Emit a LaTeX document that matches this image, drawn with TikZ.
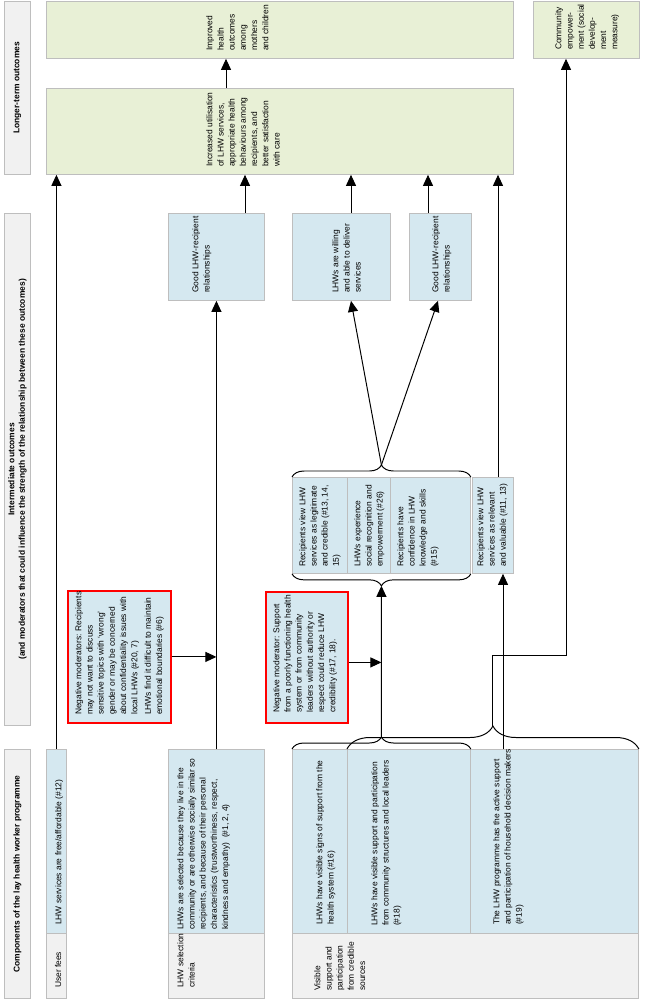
\documentclass[tikz,border=0pt]{standalone}
\usepackage{fontspec}
\setmainfont{Liberation Sans}
\usetikzlibrary{arrows.meta,calc,decorations.pathreplacing}

\definecolor{cellblue}{RGB}{213,232,240}
\definecolor{cellgreen}{RGB}{232,240,214}
\definecolor{hdrgrey}{RGB}{241,241,241}
\definecolor{edgegrey}{RGB}{190,190,190}

\begin{document}
\begin{tikzpicture}[
  x=0.05cm, y=-0.05cm,
  every node/.style={font=\fontsize{12}{16}\selectfont},
  wh/.style 2 args={minimum width=#1*0.05cm, minimum height=#2*0.05cm},
  cell/.style={draw=edgegrey, line width=1.2pt, anchor=north west, inner sep=0pt},
  bluecell/.style={cell, fill=cellblue},
  greencell/.style={cell, fill=cellgreen},
  greycell/.style={cell, fill=hdrgrey},
  modbox/.style={cell, draw=red, line width=2.6pt, fill=cellblue},
  txt/.style={rotate=90, anchor=north west, inner sep=0pt, align=left},
  hdrtxt/.style={rotate=90, align=center, font=\fontsize{12}{15}\selectfont\bfseries},
  arrow/.style={-{Triangle[length=0.55cm, width=0.5cm]}, line width=1.4pt},
  curly/.style={decorate, decoration={brace, amplitude=#1}, line width=1.4pt}
]
\useasboundingbox (0,0) rectangle (649,1000);

% column headers
\node[greycell, wh={26}{173}] (hLong) at (4,1) {};
\node[hdrtxt] (hLong-t) at (hLong) {Longer-term outcomes};
\node[greycell, wh={26}{512}] (hInter) at (4,213) {};
\node[hdrtxt] (hInter-t) at (hInter) {Intermediate outcomes\\(and moderators that could influence the strength of the relationship between these outcomes)};
\node[greycell, wh={26}{249}] (hComp) at (4,749) {};
\node[hdrtxt] (hComp-t) at (hComp) {Components of the lay health worker programme};

% programme components
\node[bluecell, wh={20}{184}] (fees) at (46,749) {};
\node[greycell, wh={20}{65}] (feesLbl) at (46,933) {};
\node[txt] (fees-t) at (55,925) {LHW services are free/affordable (\#12)};
\node[txt] (feesLbl-t) at (55,988) {User fees};

\node[bluecell, wh={96}{184}] (sel) at (168,749) {};
\node[greycell, wh={96}{65}] (selLbl) at (168,933) {};
\node[txt] (sel-t) at (177,930) {LHWs are selected because they live in the\\community or are otherwise socially similar so\\recipients, and because of their personal\\characteristics (trustworthiness, respect,\\kindness and empathy)~~(\#1, 2, 4)};
\node[txt] (selLbl-t) at (177,988) {LHW selection\\criteria};

\node[bluecell, wh={55}{184}] (sig1) at (292,749) {};
\node[bluecell, wh={123}{184}] (sig2) at (347,749) {};
\node[bluecell, wh={168}{184}] (sig3) at (470,749) {};
\node[greycell, wh={346}{65}] (sigLbl) at (292,933) {};
\node[txt] (sig1-t) at (316,925) {LHWs have visible signs of support from the\\health system (\#16)};
\node[txt] (sig2-t) at (371,926) {LHWs have visible support and participation\\from community structures and local leaders\\(\#18)};
\node[txt] (sig3-t) at (493,925) {The LHW programme has the active support\\and participation of household decision makers\\(\#19)};
\node[txt] (sigLbl-t) at (314,991) {Visible\\support and\\participation\\from credible\\sources};

% moderators
\node[modbox, wh={103}{132}] (mod1) at (67,590) {};
\node[txt] (mod1-t) at (75,715) {Negative moderators: Recipients\\may not want to discuss\\sensitive topics with `wrong'\\gender or may be concerned\\about confidentiality issues with\\local LHWs (\#20, 7)\\[3pt]LHWs find it difficult to maintain\\emotional boundaries (\#6)};
\node[modbox, wh={82}{131}] (mod2) at (265,591) {};
\node[txt] (mod2-t) at (273,713) {Negative moderator: Support\\from a poorly functioning health\\system or from community\\leaders without authority or\\respect could reduce LHW\\credibility (\#17, 18).};

% intermediate outcomes
\node[bluecell, wh={55}{96}] (grp1) at (292,477) {};
\node[bluecell, wh={43}{96}] (grp2) at (347,477) {};
\node[bluecell, wh={80}{96}] (grp3) at (390,477) {};
\node[bluecell, wh={41}{96}] (rel) at (472,477) {};
\node[txt] (grp1-t) at (299,567) {Recipients view LHW\\services as legitimate\\and credible (\#13, 14,\\15)};
\node[txt] (grp2-t) at (354,567) {LHWs experience\\social recognition and\\empowerment (\#26)};
\node[txt] (grp3-t) at (397,567) {Recipients have\\confidence in LHW\\knowledge and skills\\(\#15)};
\node[txt] (rel-t) at (477,567) {Recipients view LHW\\services as relevant\\and valuable (\#11, 13)};

\node[bluecell, wh={96}{87}] (good1) at (168,213) {};
\node[bluecell, wh={98}{87}] (will) at (292,213) {};
\node[bluecell, wh={62}{87}] (good2) at (409,213) {};
\node[txt] (good1-t) at (192,293) {Good LHW-recipient\\relationships};
\node[txt] (will-t) at (332,293) {LHWs are willing\\and able to deliver\\services};
\node[txt] (good2-t) at (432,293) {Good LHW-recipient\\relationships};

% longer-term outcomes
\node[greencell, wh={467}{86}] (util) at (46,88) {};
\node[greencell, wh={467}{57}] (health) at (46,1) {};
\node[greencell, wh={106}{57}] (comm) at (533,1) {};
\node[txt] (util-t) at (206,167) {Increased utilisation\\of LHW services,\\appropriate health\\behaviours among\\recipients, and\\better satisfaction\\with care};
\node[txt] (health-t) at (206,51) {Improved\\health\\outcomes\\among\\mothers\\and children};
\node[txt] (comm-t) at (555,50) {Community\\empower-\\ment (social\\develop-\\ment\\measure)};

% braces
\draw[curly=0.6cm] (sig1.north west) -- (sig2.north east);
\draw[curly=1.15cm] (sig2.north west) -- (sig3.north east);
\draw[curly=0.6cm] (grp3.south east) -- (grp1.south west);
\draw[curly=0.6cm] (grp1.north west) -- (grp3.north east);
\coordinate (tipA) at ($(sig1.north west)!0.5!(sig2.north east)+(0,-12)$);
\coordinate (tipB) at ($(sig2.north west)!0.5!(sig3.north east)+(0,-23)$);
\coordinate (grpIn) at ($(grp1.south west)!0.5!(grp3.south east)+(0,12)$);
\coordinate (grpOut) at ($(grp1.north west)!0.5!(grp3.north east)+(0,-12)$);

% connectors
\draw[arrow] (fees.north) -- (fees.north |- util.south);
\draw[arrow] (sel.north) -- (sel.north |- good1.south);
\draw[arrow] (mod1.east) -- (mod1.east -| sel.north);
\draw[arrow] (245,0 |- good1.north) -- (245,0 |- util.south);
\draw[arrow] (tipA) -- (grpIn);
\draw[arrow] ([yshift=-0.25cm]mod2.east) -- ([yshift=-0.25cm]mod2.east -| tipA);
\draw[arrow] (grpOut) -- (351,0 |- will.south);
\draw[arrow] (grpOut) -- (438,0 |- good2.south);
\draw[arrow] (351,0 |- will.north) -- (351,0 |- util.south);
\draw[arrow] (428,0 |- good2.north) -- (428,0 |- util.south);
\draw[arrow] (503,0 |- sig3.north) -- (503,0 |- rel.south);
\draw[arrow] (498,0 |- rel.north) -- (498,0 |- util.south);
\draw[arrow] (tipB) -- ([yshift=0.1cm]tipB |- mod2.east) -| (566,0 |- comm.south);
\draw[arrow] (226,0 |- util.north) -- (226,0 |- health.south);
\end{tikzpicture}
\end{document}
